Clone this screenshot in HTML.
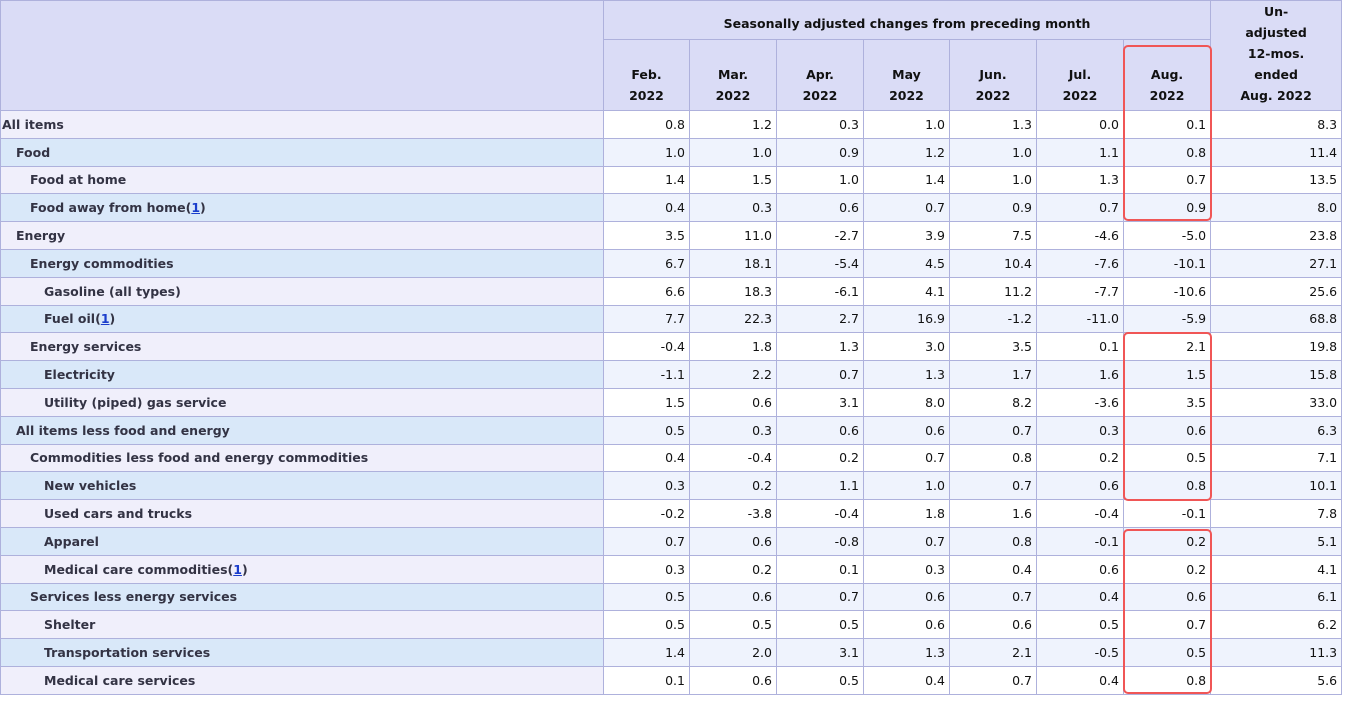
<!DOCTYPE html>
<html><head><meta charset="utf-8"><style>
body{margin:0;background:#fff;width:1358px;height:704px;overflow:hidden;position:relative;font-family:"DejaVu Sans","Liberation Sans",sans-serif;}
table{border-collapse:collapse;table-layout:fixed;width:1341px;position:absolute;left:0;top:0;}
td,th{border:1px solid #aeb1dc;padding:0 3px;font-size:12.5px;color:#111;white-space:nowrap;overflow:hidden;}
th{background:#dadcf6;font-weight:bold;text-align:center;line-height:21px;color:#111;}
tbody tr{height:27.8px;}
tbody td{text-align:right;padding-right:4px;}
tbody td.l{text-align:left;font-weight:bold;color:#333344;padding-left:1px;}
tbody tr:nth-child(odd) td{background:#fff;}
tbody tr:nth-child(odd) td.l{background:#f0effb;}
tbody tr:nth-child(even) td{background:#eff3fd;}
tbody tr:nth-child(even) td.l{background:#d9e8f9;}
.i1{padding-left:15px!important}.i2{padding-left:29px!important}.i3{padding-left:43px!important}
a{color:#1a3dcc;text-decoration:underline}
.box{position:absolute;border:2.5px solid #f05656;border-radius:5px;left:1123px;width:85px;}
</style></head><body>
<table>
<colgroup><col style="width:603px"><col style="width:86px"><col style="width:87px"><col style="width:87px"><col style="width:86px"><col style="width:87px"><col style="width:87px"><col style="width:87px"><col style="width:131px"></colgroup>
<thead>
<tr style="height:39px"><th rowspan="2"></th><th colspan="7" style="padding-top:6px">Seasonally adjusted changes from preceding month</th><th rowspan="2" style="vertical-align:bottom;padding-bottom:4px">Un-<br>adjusted<br>12-mos.<br>ended<br>Aug. 2022</th></tr>
<tr style="height:71px"><th style="vertical-align:bottom;padding-bottom:4px">Feb.<br>2022</th><th style="vertical-align:bottom;padding-bottom:4px">Mar.<br>2022</th><th style="vertical-align:bottom;padding-bottom:4px">Apr.<br>2022</th><th style="vertical-align:bottom;padding-bottom:4px">May<br>2022</th><th style="vertical-align:bottom;padding-bottom:4px">Jun.<br>2022</th><th style="vertical-align:bottom;padding-bottom:4px">Jul.<br>2022</th><th style="vertical-align:bottom;padding-bottom:4px">Aug.<br>2022</th></tr>
</thead>
<tbody>
<tr><td class="l">All items</td><td>0.8</td><td>1.2</td><td>0.3</td><td>1.0</td><td>1.3</td><td>0.0</td><td>0.1</td><td>8.3</td></tr>
<tr><td class="l i1">Food</td><td>1.0</td><td>1.0</td><td>0.9</td><td>1.2</td><td>1.0</td><td>1.1</td><td>0.8</td><td>11.4</td></tr>
<tr><td class="l i2">Food at home</td><td>1.4</td><td>1.5</td><td>1.0</td><td>1.4</td><td>1.0</td><td>1.3</td><td>0.7</td><td>13.5</td></tr>
<tr><td class="l i2">Food away from home(<a>1</a>)</td><td>0.4</td><td>0.3</td><td>0.6</td><td>0.7</td><td>0.9</td><td>0.7</td><td>0.9</td><td>8.0</td></tr>
<tr><td class="l i1">Energy</td><td>3.5</td><td>11.0</td><td>-2.7</td><td>3.9</td><td>7.5</td><td>-4.6</td><td>-5.0</td><td>23.8</td></tr>
<tr><td class="l i2">Energy commodities</td><td>6.7</td><td>18.1</td><td>-5.4</td><td>4.5</td><td>10.4</td><td>-7.6</td><td>-10.1</td><td>27.1</td></tr>
<tr><td class="l i3">Gasoline (all types)</td><td>6.6</td><td>18.3</td><td>-6.1</td><td>4.1</td><td>11.2</td><td>-7.7</td><td>-10.6</td><td>25.6</td></tr>
<tr><td class="l i3">Fuel oil(<a>1</a>)</td><td>7.7</td><td>22.3</td><td>2.7</td><td>16.9</td><td>-1.2</td><td>-11.0</td><td>-5.9</td><td>68.8</td></tr>
<tr><td class="l i2">Energy services</td><td>-0.4</td><td>1.8</td><td>1.3</td><td>3.0</td><td>3.5</td><td>0.1</td><td>2.1</td><td>19.8</td></tr>
<tr><td class="l i3">Electricity</td><td>-1.1</td><td>2.2</td><td>0.7</td><td>1.3</td><td>1.7</td><td>1.6</td><td>1.5</td><td>15.8</td></tr>
<tr><td class="l i3">Utility (piped) gas service</td><td>1.5</td><td>0.6</td><td>3.1</td><td>8.0</td><td>8.2</td><td>-3.6</td><td>3.5</td><td>33.0</td></tr>
<tr><td class="l i1">All items less food and energy</td><td>0.5</td><td>0.3</td><td>0.6</td><td>0.6</td><td>0.7</td><td>0.3</td><td>0.6</td><td>6.3</td></tr>
<tr><td class="l i2">Commodities less food and energy commodities</td><td>0.4</td><td>-0.4</td><td>0.2</td><td>0.7</td><td>0.8</td><td>0.2</td><td>0.5</td><td>7.1</td></tr>
<tr><td class="l i3">New vehicles</td><td>0.3</td><td>0.2</td><td>1.1</td><td>1.0</td><td>0.7</td><td>0.6</td><td>0.8</td><td>10.1</td></tr>
<tr><td class="l i3">Used cars and trucks</td><td>-0.2</td><td>-3.8</td><td>-0.4</td><td>1.8</td><td>1.6</td><td>-0.4</td><td>-0.1</td><td>7.8</td></tr>
<tr><td class="l i3">Apparel</td><td>0.7</td><td>0.6</td><td>-0.8</td><td>0.7</td><td>0.8</td><td>-0.1</td><td>0.2</td><td>5.1</td></tr>
<tr><td class="l i3">Medical care commodities(<a>1</a>)</td><td>0.3</td><td>0.2</td><td>0.1</td><td>0.3</td><td>0.4</td><td>0.6</td><td>0.2</td><td>4.1</td></tr>
<tr><td class="l i2">Services less energy services</td><td>0.5</td><td>0.6</td><td>0.7</td><td>0.6</td><td>0.7</td><td>0.4</td><td>0.6</td><td>6.1</td></tr>
<tr><td class="l i3">Shelter</td><td>0.5</td><td>0.5</td><td>0.5</td><td>0.6</td><td>0.6</td><td>0.5</td><td>0.7</td><td>6.2</td></tr>
<tr><td class="l i3">Transportation services</td><td>1.4</td><td>2.0</td><td>3.1</td><td>1.3</td><td>2.1</td><td>-0.5</td><td>0.5</td><td>11.3</td></tr>
<tr><td class="l i3">Medical care services</td><td>0.1</td><td>0.6</td><td>0.5</td><td>0.4</td><td>0.7</td><td>0.4</td><td>0.8</td><td>5.6</td></tr>
</tbody></table>
<div class="box" style="top:45px;height:172px"></div>
<div class="box" style="top:332px;height:165px"></div>
<div class="box" style="top:529px;height:161px"></div>
</body></html>
